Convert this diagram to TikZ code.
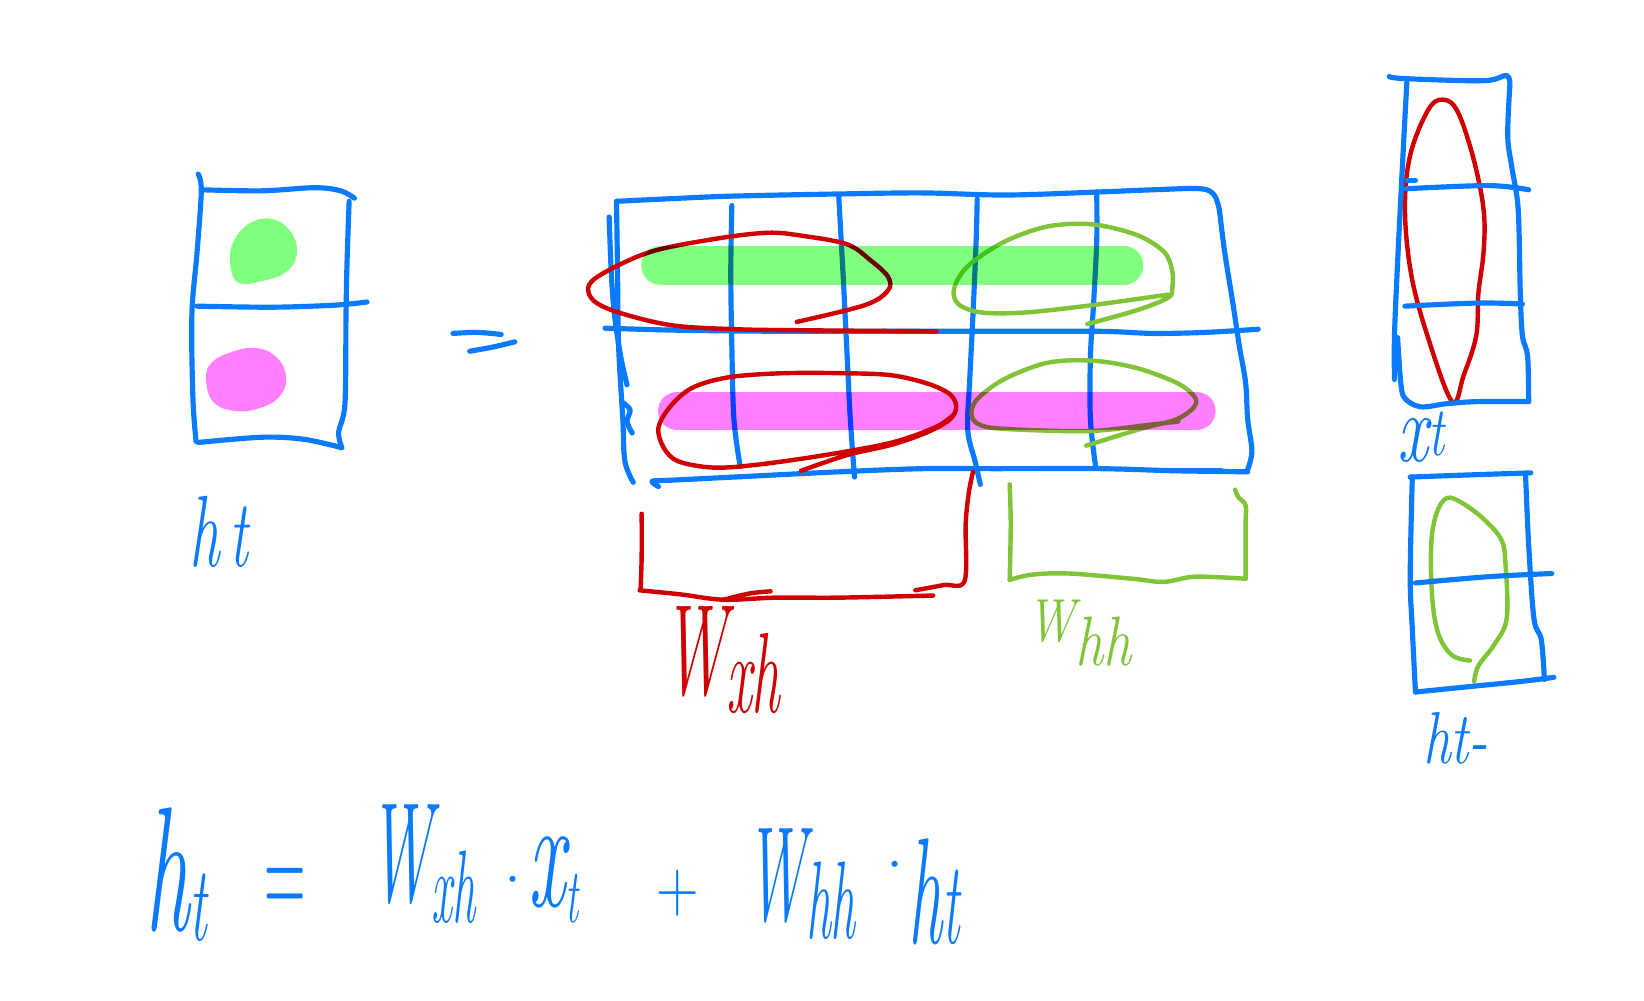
\documentclass[tikz,border=0pt]{standalone}
\usepackage{fontspec}
\definecolor{bluec}{RGB}{10,122,255}
\definecolor{redc}{RGB}{208,0,0}
\definecolor{greenc}{RGB}{128,196,56}
\definecolor{hlgreen}{RGB}{128,255,128}
\definecolor{hlpink}{RGB}{255,128,255}
% #1 xscale, #2 size, #3 subscript size, #4 raise of subscript, #5 main, #6 subscript
\newcommand{\hw}[6]{\scalebox{#1}[1]{\fontsize{#2}{#2}\selectfont\itshape #5\raisebox{#4}{\fontsize{#3}{#3}\selectfont #6}}}
% #1 xscale, #2 size, #3 text
\newcommand{\hs}[3]{\scalebox{#1}[1]{\fontsize{#2}{#2}\selectfont #3}}
\begin{document}
\begin{tikzpicture}[x=0.02cm,y=-0.02cm,
 bl/.style={draw=bluec,line width=2.8pt,line cap=round,line join=round},
 rd/.style={draw=redc,line width=2.4pt,line cap=round,line join=round},
 gn/.style={draw=greenc,line width=2.4pt,line cap=round,line join=round},
 hl/.style={line width=21pt,line cap=round},
 lbl/.style={inner sep=0pt,anchor=base west},
 sm/.style={smooth,tension=0.55}]
\useasboundingbox[fill=white] (0,0) rectangle (1568,954);

% ---- left vector h_t ----
\fill[hlgreen] plot[smooth cycle,tension=0.7] coordinates {(222,232)(238,213)(260,209)(278,222)(283,243)(272,260)(250,268)(228,270)(220,255)};
\fill[hlpink] plot[smooth cycle,tension=0.7] coordinates {(200,348)(220,336)(245,332)(265,342)(273,362)(265,380)(245,390)(225,392)(205,385)(197,367)};
\draw[bl] plot[sm] coordinates {(189,166)(192,182)(188,240)(183,300)(184,380)(187,421)};
\draw[bl] plot[sm] coordinates {(192,181)(250,182)(300,179)(325,182)(338,189)};
\draw[bl] plot[sm] coordinates {(333,192)(331,250)(330,300)(329,385)(323,412)(326,427)};
\draw[bl] plot[sm] coordinates {(189,422)(250,417)(290,419)(326,427)};
\draw[bl] plot[sm] coordinates {(188,292)(260,293)(320,291)(350,288)};
\node[lbl,text=bluec] (hleft) at (180,540) {\hw{0.6}{55}{52}{0pt}{h\,}{t}};

% equals sign
\draw[bl] plot[sm] coordinates {(432,318)(455,317)(478,319)};
\draw[bl] plot[sm] coordinates {(448,335)(470,331)(491,326)};

% ---- main matrix ----
\draw[bl] plot[sm] coordinates {(588,192)(650,189)(700,187)(800,185)(880,184)(960,186)(1050,183)(1100,181)(1145,180)(1158,186)(1163,200)};
\draw[bl] plot[sm] coordinates {(1163,200)(1168,240)(1176,290)(1182,330)(1188,365)(1190,400)(1194,430)(1190,448)};
\draw[bl] plot[sm] coordinates {(628,464)(622,459)(640,458)(700,455)(800,450)(880,447)(950,447)(1050,447)(1120,449)(1190,450)};
\draw[bl] (1112,449) -- (1165,449);
\draw[bl] plot[sm] coordinates {(581,207)(583,260)(586,300)(592,340)(598,367)};
\draw[bl] plot[sm] coordinates {(588,192)(589,260)(590,330)(594,400)(596,440)(604,460)};
\draw[bl] plot[sm] coordinates {(594,384)(601,391)(598,402)(603,413)};
\draw[bl] plot[sm] coordinates {(577,313)(650,315)(750,316)(850,316)(950,316)(1050,316)(1100,318)(1150,317)(1200,314)};
\draw[bl] plot[sm] coordinates {(698,196)(697,260)(698,330)(700,400)(706,445)};
\draw[bl] plot[sm] coordinates {(800,188)(804,260)(808,340)(811,400)(815,455)};
\draw[bl] plot[sm] coordinates {(932,190)(931,230)(928,300)(925,360)(923,410)(930,440)(935,462)};
\draw[bl] plot[sm] coordinates {(1046,183)(1046,230)(1043,290)(1040,340)(1040,400)(1045,445)};

% red loops
\draw[rd] plot[sm] coordinates {(760,307)(825,291)(847,277)(847,264)(830,248)(808,233)(766,225)(732,222)(681,228)(618,241)(567,266)(563,283)(584,296)(639,310)(702,314)(766,315)(893,316)};
\draw[rd] plot[sm] coordinates {(764,449)(808,434)(851,424)(885,412)(906,400)(912,388)(906,376)(885,366)(851,358)(808,356)(745,356)(694,360)(660,370)(639,388)(628,408)(633,427)(647,440)(681,446)(724,443)(787,434)(851,422)(893,407)(910,395)};
% green loops
\draw[gn] plot[sm] coordinates {(1037,309)(1084,296)(1114,284)(1118,275)(1118,258)(1110,240)(1084,224)(1042,214)(999,216)(957,231)(923,254)(910,275)(914,290)(936,298)(978,298)(1042,291)(1114,281)};
\draw[gn] plot[sm] coordinates {(1036,425)(1088,409)(1122,400)(1139,388)(1139,378)(1122,365)(1084,351)(1042,344)(999,346)(957,362)(931,382)(927,398)(940,407)(978,410)(1042,411)(1097,405)(1124,402)};

% highlighter bars
\begin{scope}[blend mode=multiply]
\draw[hl,hlgreen] (630,253) -- (1072,253);
\draw[hl,hlpink] (646,392) -- (1141,392);
\end{scope}

% red bracket
\draw[rd] plot[sm] coordinates {(612,490)(612,530)(611,562)};
\draw[rd] plot[sm] coordinates {(610,563)(650,567)(690,572)(740,570)(800,570)(890,568)};
\draw[rd] plot[sm] coordinates {(690,572)(715,566)(735,564)};
\draw[rd] plot[sm] coordinates {(873,563)(900,558)(920,554)(921,500)(924,470)(928,450)};
\node[lbl,text=redc] (wxh) at (632,662) {\hw{0.5}{70}{62}{-10pt}{W}{xh}};

% green bracket
\draw[gn] plot[sm] coordinates {(963,462)(964,500)(963,553)};
\draw[gn] plot[sm] coordinates {(963,553)(985,548)(1020,547)(1080,552)(1110,555)(1140,550)(1188,552)};
\draw[gn] plot[sm] coordinates {(1188,552)(1188,500)(1188,482)(1181,474)(1178,467)};
\node[lbl,text=greenc] (whh) at (980,612) {\hw{0.8}{33}{38}{-13pt}{W}{hh}};

% ---- x_t vector ----
\draw[rd] plot[smooth cycle,tension=0.6] coordinates {(1385,383)(1362,322)(1346,262)(1340,200)(1345,148)(1362,105)(1376,95)(1390,106)(1405,150)(1415,200)(1415,240)(1410,280)(1408,320)(1396,358)};
\draw[bl] plot[sm] coordinates {(1325,73)(1340,75)(1415,77)(1437,72)(1440,82)};
\draw[bl] plot[sm] coordinates {(1440,82)(1438,130)(1442,160)(1448,200)(1450,280)(1452,320)(1457,340)(1458,383)};
\draw[bl] plot[sm] coordinates {(1458,383)(1410,383)(1380,385)(1355,388)(1340,380)(1336,365)(1333,322)};
\draw[bl] plot[sm] coordinates {(1342,75)(1338,150)(1333,250)(1330,320)(1330,362)};
\draw[bl] plot[sm] coordinates {(1341,180)(1420,177)(1458,181)};
\draw[bl] (1342,172) -- (1350,172);
\draw[bl] plot[sm] coordinates {(1340,292)(1410,289)(1452,290)};
\node[lbl,text=bluec] (xlbl) at (1333,440) {\hw{0.7}{53}{38}{3pt}{x}{t}};

% ---- h_{t-1} vector ----
\draw[gn] plot[smooth,tension=0.6] coordinates {(1406,650)(1410,635)(1425,615)(1437,590)(1436,540)(1432,515)(1415,495)(1395,480)(1380,475)(1370,490)(1365,520)(1366,570)(1372,605)(1385,625)(1402,630)};
\draw[bl] plot[sm] coordinates {(1345,455)(1400,453)(1460,451)};
\draw[bl] plot[sm] coordinates {(1347,455)(1345,550)(1347,600)(1350,660)};
\draw[bl] plot[sm] coordinates {(1455,452)(1458,520)(1463,590)(1470,610)(1473,648)};
\draw[bl] plot[sm] coordinates {(1350,660)(1400,655)(1450,650)(1482,646)};
\draw[bl] plot[sm] coordinates {(1350,556)(1420,550)(1480,547)};
\node[lbl,text=bluec] (hprev) at (1357,728) {\hw{0.75}{40}{40}{0pt}{h}{t-}};

% ---- equation ----
\begin{scope}[every node/.style={lbl,text=bluec}]
\node (eh) at (138,887) {\hw{0.5}{96}{58}{-5.7pt}{h}{t}};
\node (eeq) at (252,877) {\hs{0.4}{78}{=}};
\node (ew1) at (352,860) {\hw{0.45}{77}{56}{-11.4pt}{W}{xh}};
\node (ed1) at (464,863) {\hs{1}{40}{·}};
\node (ex) at (504,865) {\hw{0.52}{86}{42}{-8.5pt}{x}{t}};
\node (eplus) at (626,869) {\hs{0.8}{40}{+}};
\node (ew2) at (712,878) {\hw{0.45}{73}{60}{-9.7pt}{W}{hh}};
\node (ed2) at (828,848) {\hs{1}{40}{·}};
\node (eh2) at (866,900) {\hw{0.45}{82}{64}{0pt}{h}{t}};
\end{scope}
\end{tikzpicture}
\end{document}
